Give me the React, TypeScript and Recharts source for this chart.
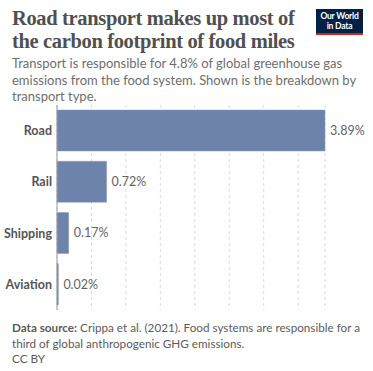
import { BarChart, Bar, XAxis, YAxis, CartesianGrid, LabelList } from "recharts";

const modes = ["Road", "Rail", "Shipping", "Aviation"];
const shares = [3.89, 0.72, 0.17, 0.02];
const gridTicks = [0, 0.5, 1, 1.5, 2, 2.5, 3, 3.5];

const data = modes.map((mode, i) => ({ mode, share: shares[i] }));

const sans = "Lato, 'Open Sans', sans-serif";

export default function App() {
  return (
    <div style={{ position: "absolute", left: 0, top: 0, width: 373, height: 371, background: "#fff", fontFamily: sans }}>
      <div
        style={{
          position: "absolute",
          left: 12,
          top: 7,
          width: 300,
          fontFamily: "'Liberation Serif', 'DejaVu Serif', serif",
          fontWeight: 700,
          fontSize: 20.5,
          letterSpacing: -0.35,
          lineHeight: "23px",
          color: "#505050",
          whiteSpace: "nowrap",
        }}
      >
        Road transport makes up most of
        <br />
        the carbon footprint of food miles
      </div>
      <div
        style={{
          position: "absolute",
          left: 316,
          top: 9,
          width: 47,
          height: 26,
          background: "#002147",
          borderBottom: "2px solid #ce261e",
          boxSizing: "border-box",
          color: "#fff",
          fontSize: 8.5,
          fontWeight: 700,
          lineHeight: "9.5px",
          textAlign: "center",
          paddingTop: 3,
          letterSpacing: -0.2,
        }}
      >
        Our World
        <br />
        in Data
      </div>
      <div
        style={{
          position: "absolute",
          left: 12,
          top: 55,
          width: 345,
          fontSize: 13,
          lineHeight: "16.5px",
          color: "#6e6e6e",
        }}
      >
        Transport is responsible for 4.8% of global greenhouse gas emissions from the food system. Shown is the breakdown by transport type.
      </div>

      <div style={{ position: "absolute", left: 0, top: 100 }}>
        <BarChart
          width={373}
          height={215}
          data={data}
          layout="vertical"
          margin={{ top: 5, right: 48, bottom: 5, left: 0 }}
          barSize={41}
        >
          <CartesianGrid horizontal={false} stroke="#d9d9d9" strokeDasharray="3 3" />
          <XAxis type="number" domain={[0, 3.89]} ticks={gridTicks} hide />
          <YAxis
            type="category"
            dataKey="mode"
            width={57}
            tickSize={0}
            tickMargin={5}
            axisLine={{ stroke: "#9a9a9a" }}
            tick={{ fill: "#555", fontSize: 12.5, fontWeight: 700, fontFamily: sans }}
          />
          <Bar dataKey="share" fill="#6d83ab" stroke="#8b9cbd" strokeWidth={0.5} isAnimationActive={false}>
            <LabelList
              dataKey="share"
              position="right"
              offset={5}
              formatter={(v: number) => `${v}%`}
              style={{ fill: "#636363", fontSize: 12.5, fontFamily: sans }}
            />
          </Bar>
        </BarChart>
      </div>

      <div
        style={{
          position: "absolute",
          left: 12,
          top: 320,
          width: 355,
          fontSize: 11.7,
          lineHeight: "15.5px",
          color: "#5b5b5b",
          whiteSpace: "nowrap",
        }}
      >
        <div>
          <span style={{ fontWeight: 700 }}>Data source:</span>
          <span> Crippa et al. (2021). Food systems are responsible for a</span>
        </div>
        <div>third of global anthropogenic GHG emissions.</div>
        <div>CC BY</div>
      </div>
    </div>
  );
}
